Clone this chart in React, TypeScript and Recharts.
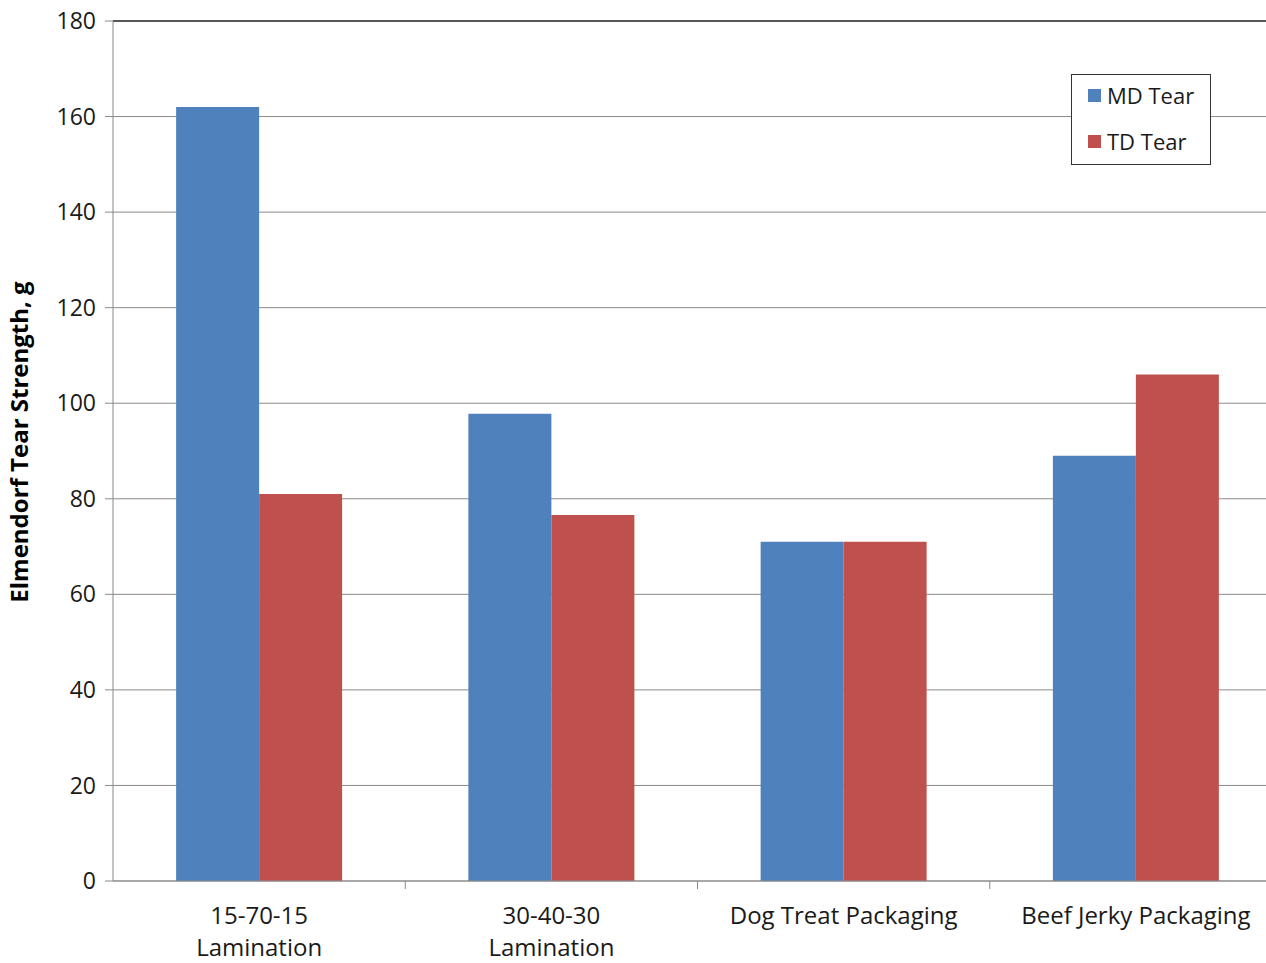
import { Bar, BarChart, CartesianGrid, ReferenceLine, XAxis, YAxis } from "recharts";

const categories = ["15-70-15\nLamination", "30-40-30\nLamination", "Dog Treat Packaging", "Beef Jerky Packaging"];
const mdTear = [162, 97.8, 71, 89];
const tdTear = [81, 76.6, 71, 106];
const yTicks = [0, 20, 40, 60, 80, 100, 120, 140, 160, 180];
const legendItems = [
  { label: "MD Tear", color: "#4F81BD" },
  { label: "TD Tear", color: "#C0504D" },
];

const data = categories.map((name, i) => ({ name, md: mdTear[i], td: tdTear[i] }));

const FONT = "'Open Sans', sans-serif";
const AXIS = "#8a8a8a";

const CHART_W = 1282;
const LEFT = 40;
const Y_W = 73;
const BAND = (CHART_W - LEFT - Y_W) / categories.length;

// category label + the boundary tick mark on the left of each band
const CategoryTick = ({ x, y, payload, index }: any) => {
  const lines = String(payload.value).split("\n");
  return (
    <g transform={`translate(${x},${y})`}>
      {index > 0 && <line x1={-BAND / 2} x2={-BAND / 2} y1={-8} y2={0} stroke={AXIS} />}
      {lines.map((line, i) => (
        <text
          key={i}
          x={0}
          y={29 + i * 32}
          textAnchor="middle"
          dominantBaseline="middle"
          fontSize={24}
          fontFamily={FONT}
          fill="#1a1a1a"
        >
          {line}
        </text>
      ))}
    </g>
  );
};

const YLabel = ({ viewBox }: any) => {
  const cx = viewBox.x - 18;
  const cy = viewBox.y + viewBox.height / 2 - 9;
  return (
    <text
      x={cx}
      y={cy}
      transform={`rotate(-90, ${cx}, ${cy})`}
      textAnchor="middle"
      dominantBaseline="middle"
      fontSize={24}
      fontWeight={700}
      fontFamily={FONT}
      fill="#000"
    >
      Elmendorf Tear Strength, g
    </text>
  );
};

export default function App() {
  return (
    <div style={{ position: "absolute", top: 0, left: 0, width: 1266, height: 963, overflow: "hidden", background: "#fff" }}>
      <BarChart
        width={CHART_W}
        height={963}
        data={data}
        margin={{ top: 21, right: 0, left: LEFT, bottom: 0 }}
        barGap={0}
        barCategoryGap="21.6%"
      >
        <CartesianGrid vertical={false} stroke={AXIS} strokeWidth={1} />
        <ReferenceLine y={180} stroke="#333" strokeWidth={1.5} />
        <XAxis
          dataKey="name"
          height={82}
          interval={0}
          axisLine={{ stroke: AXIS }}
          tickLine={false}
          tick={<CategoryTick />}
        />
        <YAxis
          width={Y_W}
          domain={[0, 180]}
          ticks={yTicks}
          interval={0}
          axisLine={{ stroke: AXIS }}
          tickLine={{ stroke: AXIS }}
          tickSize={8}
          tickMargin={9}
          tick={{ fontSize: 23, fontFamily: FONT, fill: "#1a1a1a" }}
          label={<YLabel />}
        />
        <Bar dataKey="md" name="MD Tear" fill={legendItems[0].color} isAnimationActive={false} />
        <Bar dataKey="td" name="TD Tear" fill={legendItems[1].color} isAnimationActive={false} />
      </BarChart>
      <div
        style={{
          position: "absolute",
          top: 74,
          left: 1071,
          width: 140,
          height: 91,
          border: "1.5px solid #333",
          background: "#fff",
          fontFamily: FONT,
          fontSize: 22,
          color: "#1a1a1a",
          boxSizing: "border-box",
          paddingLeft: 16,
          paddingTop: 4,
        }}
      >
        {legendItems.map((item, i) => (
          <div key={item.label} style={{ display: "flex", alignItems: "center", height: 32, marginTop: i ? 14 : 0 }}>
            <span style={{ width: 13, height: 13, background: item.color, marginRight: 6, display: "inline-block" }} />
            {item.label}
          </div>
        ))}
      </div>
    </div>
  );
}
